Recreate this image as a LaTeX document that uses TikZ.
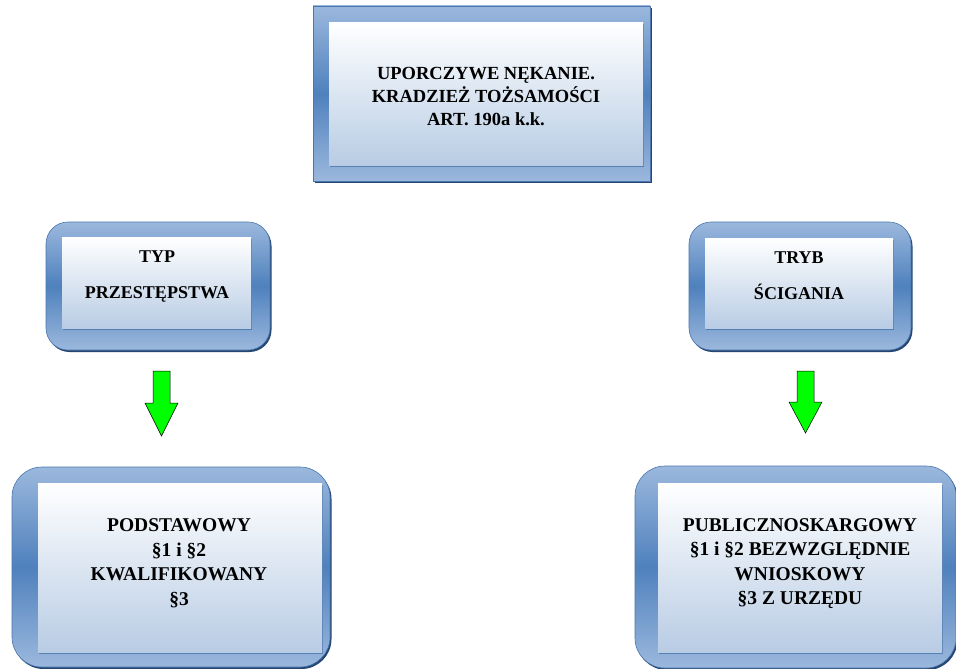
\documentclass[tikz,border=0pt]{standalone}
\usepackage{fontspec}
\setmainfont{Liberation Serif}
\usepackage{tikz}
\usetikzlibrary{shadows}

\definecolor{frametop}{HTML}{9BB8DD}
\definecolor{framemid}{HTML}{4F81BD}
\definecolor{frameline}{HTML}{4A76AD}
\definecolor{panelbot}{HTML}{B8CCE4}
\definecolor{shadowblue}{HTML}{264673}
\definecolor{arrowgreen}{HTML}{00FF00}

\begin{document}
\begin{tikzpicture}[x=1pt, y=-1pt,
	frame/.style={draw=frameline, line width=0.6pt, top color=frametop, bottom color=frametop, middle color=framemid,
		drop shadow={shadow xshift=1.5pt, shadow yshift=-2pt, fill=shadowblue, opacity=1}, inner sep=0pt},
	panel/.style={draw=none, top color=white, bottom color=panelbot,
		drop shadow={shadow xshift=1pt, shadow yshift=-1.5pt, fill=frameline, opacity=0.8}, inner sep=0pt},
	boxtext/.style={align=center, inner sep=0pt},
	blockarrow/.style={draw=black, line width=0.5pt, fill=arrowgreen, line join=miter}]
	\useasboundingbox (0,0) rectangle (956,669);

	% top box
	\node[frame, minimum width=337pt, minimum height=175pt] (artframe) at (481.5,93.5) {};
	\node[panel, minimum width=314pt, minimum height=142pt] (artpanel) at (486,94) {};
	\node[boxtext, font=\bfseries\fontsize{18.5}{23}\selectfont] (art) at (486,96.5) {UPORCZYWE NĘKANIE.\\KRADZIEŻ TOŻSAMOŚCI\\ART. 190a k.k.};

	% middle boxes
	\node[frame, rounded corners=22pt, minimum width=224pt, minimum height=128pt] (typframe) at (158,286) {};
	\node[panel, minimum width=189pt, minimum height=91pt] (typpanel) at (156.5,282.5) {};
	\node[boxtext, font=\bfseries\fontsize{18}{36}\selectfont] (typ) at (157,276) {TYP\\PRZESTĘPSTWA};

	\node[frame, rounded corners=22pt, minimum width=222pt, minimum height=128pt] (trybframe) at (800,286) {};
	\node[panel, minimum width=188pt, minimum height=90pt] (trybpanel) at (799,283) {};
	\node[boxtext, font=\bfseries\fontsize{18}{36}\selectfont] (tryb) at (799,276) {TRYB\\ŚCIGANIA};

	% arrows
	\coordinate (typarrow) at (161.5,371);
	\draw[blockarrow] (typarrow) ++(-8.5,0) -- ++(17,0) -- ++(0,32) -- ++(8,0) -- ++(-16.5,33) -- ++(-16.5,-33) -- ++(8,0) -- cycle;
	\coordinate (trybarrow) at (805.5,371);
	\draw[blockarrow] (trybarrow) ++(-8.5,0) -- ++(17,0) -- ++(0,31) -- ++(8,0) -- ++(-16.5,31) -- ++(-16.5,-31) -- ++(8,0) -- cycle;

	% bottom boxes
	\node[frame, rounded corners=30pt, minimum width=318pt, minimum height=200pt] (podframe) at (171,567) {};
	\node[panel, minimum width=284pt, minimum height=169pt] (podpanel) at (180,567.5) {};
	\node[boxtext, font=\bfseries\fontsize{19.5}{24.5}\selectfont] (pod) at (179,563.5) {PODSTAWOWY\\§1 i §2\\KWALIFIKOWANY\\§3};

	\node[frame, rounded corners=30pt, minimum width=321pt, minimum height=202pt] (pubframe) at (795.5,567) {};
	\node[panel, minimum width=284pt, minimum height=169pt] (pubpanel) at (800,567.5) {};
	\node[boxtext, font=\bfseries\fontsize{19.5}{24.5}\selectfont] (pub) at (800,563.5) {PUBLICZNOSKARGOWY\\§1 i §2 BEZWZGLĘDNIE\\WNIOSKOWY\\§3 Z URZĘDU};
\end{tikzpicture}
\end{document}
